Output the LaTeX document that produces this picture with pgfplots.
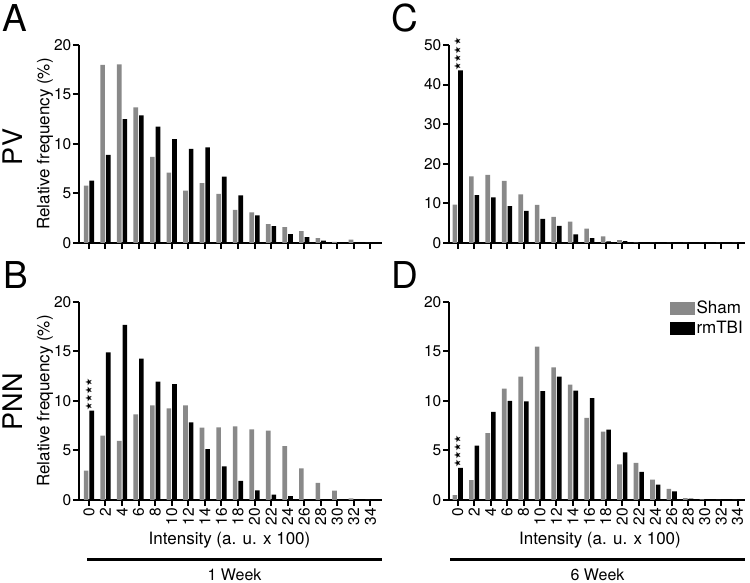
\documentclass[border=0pt]{standalone}
\usepackage{fontspec}
\setmainfont{TeX Gyre Heros}
\newfontfamily\symfont{DejaVu Sans}
\usepackage{pgfplots}
\usepackage{pgfplotstable}
\pgfplotsset{compat=1.18}
\definecolor{shamgray}{RGB}{137,137,137}

\pgfplotstableread{
x sham tbi
0 5.8 6.3
2 18.0 8.9
4 18.05 12.5
6 13.7 12.9
8 8.7 11.75
10 7.1 10.5
12 5.3 9.5
14 6.05 9.65
16 4.95 6.7
18 3.35 4.8
20 3.1 2.8
22 1.9 1.7
24 1.6 0.9
26 1.2 0.6
28 0.5 0.25
30 0.12 0.05
32 0.35 0
34 0 0
}\dataA

\pgfplotstableread{
x sham tbi
0 9.7 43.6
2 16.8 12.1
4 17.2 11.5
6 15.7 9.3
8 12.3 8.1
10 9.6 6.1
12 6.6 4.3
14 5.4 2.2
16 3.65 1.2
18 1.65 0.4
20 0.75 0.5
22 0.1 0.05
24 0 0
26 0 0
28 0 0
30 0 0
32 0 0
34 0 0
}\dataC

\pgfplotstableread{
x sham tbi
0 2.96 9.02
2 6.5 14.9
4 5.96 17.7
6 8.65 14.27
8 9.56 11.95
10 9.26 11.7
12 9.56 7.85
14 7.3 5.15
16 7.34 3.4
18 7.44 1.92
20 7.14 0.98
22 7.0 0.54
24 5.45 0.4
26 3.2 0.1
28 1.72 0
30 0.94 0
32 0.17 0
34 0 0
}\dataB

\pgfplotstableread{
x sham tbi
0 0.5 3.25
2 2.0 5.5
4 6.75 8.9
6 11.25 10.0
8 12.47 9.97
10 15.5 11.0
12 13.4 12.47
14 11.65 11.05
16 8.3 10.3
18 6.9 7.1
20 3.6 4.8
22 3.76 2.85
24 2.07 1.56
26 1.12 0.88
28 0.2 0.14
30 0.07 0
32 0 0
34 0 0
}\dataD

\pgfplotsset{
  panel/.style={
    scale only axis, anchor=south west,
    axis x line*=bottom, axis y line*=left,
    axis line style={line width=2pt, -},
    tick style={line width=2pt, black},
    major tick length=6pt, tick align=outside,
    ymin=0,
    xtick={0,2,...,34},
    ybar, bar width=0.56,
    clip=false,
    /pgf/number format/assume math mode=true,
    ticklabel style={font=\fontsize{15.5}{15.5}\selectfont},
    yticklabel style={inner sep=1.5pt},
  },
  leftpanel/.style={panel, width=303pt, height=198pt, xmin=-1.2, xmax=35.4},
  rightpanel/.style={panel, width=296pt, height=198pt, xmin=-1.05, xmax=34.9},
  nolabels/.style={xticklabels={}},
  rotlabels/.style={xticklabel style={rotate=90, anchor=east, inner sep=2pt}},
  sham/.style={fill=shamgray, draw=none, bar shift=-0.34},
  tbi/.style={fill=black, draw=none, bar shift=0.34},
}
\tikzset{stars/.style={font=\symfont\fontsize{9}{9}\selectfont, inner sep=0pt, rotate=90, anchor=west, yshift=3pt}}

\begin{document}
\begin{tikzpicture}
\useasboundingbox (0pt,0pt) rectangle (750pt,583pt);

% Panel A
\begin{axis}[leftpanel, nolabels, at={(79pt,340pt)}, ymax=20, ytick={0,5,10,15,20}]
\addplot[sham] table[x=x,y=sham]{\dataA};
\addplot[tbi] table[x=x,y=tbi]{\dataA};
\end{axis}

% Panel C
\begin{axis}[rightpanel, nolabels, at={(449pt,340pt)}, ymax=50, ytick={0,10,20,30,40,50}]
\addplot[sham] table[x=x,y=sham]{\dataC};
\addplot[tbi] table[x=x,y=tbi]{\dataC};
\node[stars] at (axis cs:0.34,43.6) {★★★★};
\end{axis}

% Panel B
\begin{axis}[leftpanel, rotlabels, at={(79pt,83pt)}, ymax=20, ytick={0,5,10,15,20}]
\addplot[sham] table[x=x,y=sham]{\dataB};
\addplot[tbi] table[x=x,y=tbi]{\dataB};
\node[stars] at (axis cs:0.34,9.02) {★★★★};
\end{axis}

% Panel D
\begin{axis}[rightpanel, rotlabels, at={(449pt,83pt)}, ymax=20, ytick={0,5,10,15,20},
  legend style={at={(axis description cs:1,1)}, anchor=north east, draw=none, fill=none,
    inner sep=0pt, font=\fontsize{17}{17}\selectfont, row sep=2pt, yshift=3pt},
  legend cell align=left]
\addlegendimage{legend image code/.code={\fill[shamgray] (0pt,-6pt) rectangle (24pt,6pt);}}
\addlegendentry{Sham}
\addlegendimage{legend image code/.code={\fill[black] (0pt,-6pt) rectangle (24pt,6pt);}}
\addlegendentry{rmTBI}
\addplot[sham] table[x=x,y=sham]{\dataD};
\addplot[tbi] table[x=x,y=tbi]{\dataD};
\node[stars] at (axis cs:0.34,3.25) {★★★★};
\end{axis}

% Panel letters and row labels
\node[font=\fontsize{37}{37}\selectfont] at (14.5pt,564.5pt) {A};
\node[font=\fontsize{37}{37}\selectfont] at (405pt,564.5pt) {C};
\node[font=\fontsize{37}{37}\selectfont] at (16pt,308pt) {B};
\node[font=\fontsize{37}{37}\selectfont] at (405pt,308pt) {D};
\node[font=\fontsize{27}{27}\selectfont, rotate=90] at (12.5pt,436pt) {PV};
\node[font=\fontsize{27}{27}\selectfont, rotate=90] at (12.5pt,181pt) {PNN};

% y labels
\node[font=\fontsize{17}{17}\selectfont, rotate=90] at (45pt,439pt) {Relative frequency (\%)};
\node[font=\fontsize{17}{17}\selectfont, rotate=90] at (45pt,182pt) {Relative frequency (\%)};

% x labels
\node[font=\fontsize{17}{17}\selectfont] at (229.5pt,42.5pt) {Intensity (a. u. x 100)};
\node[font=\fontsize{17}{17}\selectfont] at (600pt,42.5pt) {Intensity (a. u. x 100)};

% group bars
\draw[line width=3pt] (87pt,23pt) -- (382pt,23pt);
\draw[line width=3pt] (450pt,23pt) -- (745pt,23pt);
\node[font=\fontsize{16}{16}\selectfont] at (234.5pt,8pt) {1 Week};
\node[font=\fontsize{16}{16}\selectfont] at (597.5pt,8pt) {6 Week};
\end{tikzpicture}
\end{document}
